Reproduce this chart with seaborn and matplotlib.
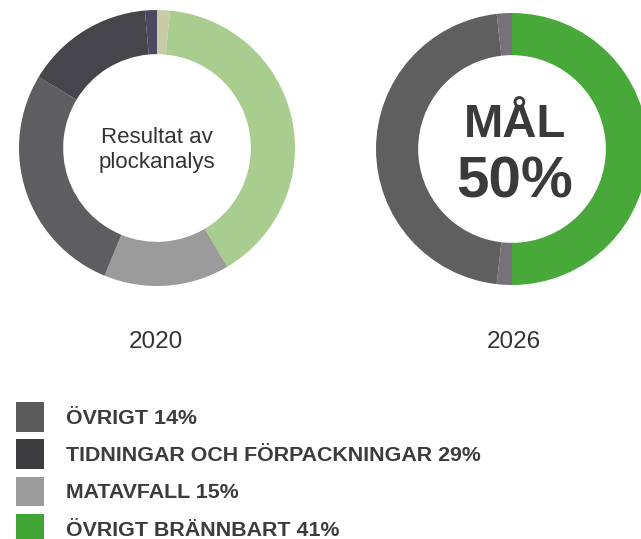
import matplotlib
matplotlib.use("Agg")
import matplotlib.pyplot as plt
import seaborn as sns
from matplotlib.patches import Patch

sns.set_theme(style="white")
plt.rcParams['font.family'] = ['Liberation Sans', 'DejaVu Sans']

# --- DATA ---
# 2020 ring, clockwise from 12 o'clock (thin seam strips at both ends)
ring_2020 = [1.5, 40, 14.7, 27.4, 15, 1.4]
ring_2020_colors = ['#c9cba6', '#a8cd8e', '#9b9b9b', '#5e5e60', '#46464a', '#4b4a62']

# 2026 goal ring, clockwise from 12 o'clock
ring_2026 = [50, 1.8, 46.4, 1.8]
ring_2026_colors = ['#48a83a', '#77717a', '#5f5f5f', '#77717a']

years = ['2020', '2026']
center_2020 = ['Resultat av', 'plockanalys']
center_2026 = ['MÅL', '50%']

legend_labels = ['ÖVRIGT 14%', 'TIDNINGAR OCH FÖRPACKNINGAR 29%',
                 'MATAVFALL 15%', 'ÖVRIGT BRÄNNBART 41%']
legend_colors = ['#5a5a5a', '#3d3d3f', '#9b9b9b', '#3fa535']

W, H = 641, 539
fig = plt.figure(figsize=(W / 100, H / 100), dpi=100)
fig.patch.set_facecolor('white')


def donut_axes(cx, cy, r):
    ax = fig.add_axes([(cx - r) / W, 1 - (cy + r) / H, 2 * r / W, 2 * r / H])
    ax.axis('off')
    return ax


# --- LEFT DONUT (2020) ---
ax1 = donut_axes(157, 148, 138)
ax1.pie(ring_2020, colors=ring_2020_colors, startangle=90, counterclock=False,
        radius=1, wedgeprops=dict(width=0.32, linewidth=0))
ax1.set_xlim(-1, 1)
ax1.set_ylim(-1, 1)
ax1.text(0, 0.036, center_2020[0], ha='center', va='baseline', fontsize=16,
         color='#333333')
ax1.text(0, -0.145, center_2020[1], ha='center', va='baseline', fontsize=16,
         color='#333333')

# --- RIGHT DONUT (2026) ---
ax2 = donut_axes(512, 149, 136)
ax2.pie(ring_2026, colors=ring_2026_colors, startangle=90, counterclock=False,
        radius=1, wedgeprops=dict(width=0.31, linewidth=0))
ax2.set_xlim(-1, 1)
ax2.set_ylim(-1, 1)
ax2.text(0.02, 0.088, center_2026[0], ha='center', va='baseline', fontsize=34,
         fontweight='bold', color='#3a3a3a')
ax2.text(0.02, -0.353, center_2026[1], ha='center', va='baseline', fontsize=42,
         fontweight='bold', color='#3a3a3a')

# --- YEAR LABELS ---
fig.text(155.5 / W, 1 - 348 / H, years[0], ha='center', va='baseline',
         fontsize=17.5, color='#333333')
fig.text(514 / W, 1 - 348 / H, years[1], ha='center', va='baseline',
         fontsize=17.5, color='#333333')

# --- LEGEND ---
handles = [Patch(facecolor=c, edgecolor='none') for c in legend_colors]
fig.legend(handles, legend_labels, loc='upper left',
           bbox_to_anchor=(16 / W, 1 - 402 / H), frameon=False,
           borderpad=0, borderaxespad=0, handlelength=1.32, handleheight=1.75,
           handletextpad=1.02, labelspacing=0.36,
           prop=dict(family='Liberation Sans', weight='bold', size=15.4),
           labelcolor='#3c3c3c')

fig.savefig('out.png', dpi=100, facecolor='white')
